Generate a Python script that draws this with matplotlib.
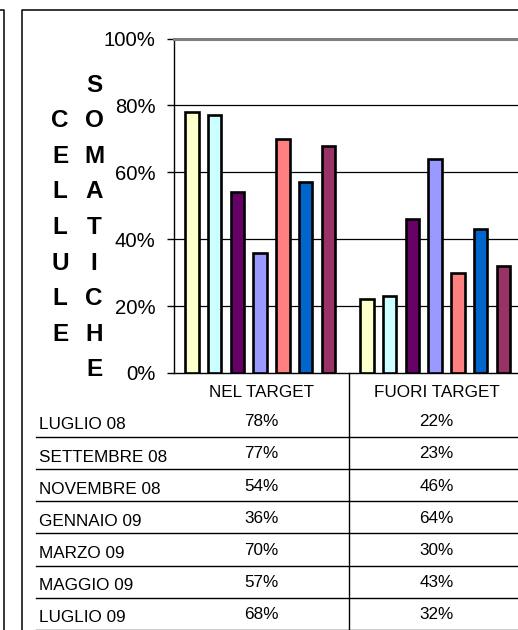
import matplotlib
matplotlib.use("Agg")
import matplotlib.pyplot as plt
from matplotlib.lines import Line2D
import numpy as np

# ---- data ----
categories = ["NEL TARGET", "FUORI TARGET"]
months = ["LUGLIO 08", "SETTEMBRE 08", "NOVEMBRE 08", "GENNAIO 09",
          "MARZO 09", "MAGGIO 09", "LUGLIO 09"]
nel_target = [78, 77, 54, 36, 70, 57, 68]
fuori_target = [22, 23, 46, 64, 30, 43, 32]
colors = ["#FFFFCC", "#CCFFFF", "#660066", "#9999FF", "#FF8080", "#0066CC", "#993366"]
yticks = [0, 20, 40, 60, 80, 100]
title_left = "CELLULE"
title_right = "SOMATICHE"

plt.rcParams['font.family'] = ['Liberation Sans', 'DejaVu Sans']

W, H = 518, 630
fig = plt.figure(figsize=(W / 100, H / 100), dpi=100)

# overlay in pixel coordinates for frame / table
ov = fig.add_axes([0, 0, 1, 1])
ov.set_xlim(0, W)
ov.set_ylim(H, 0)
ov.axis("off")

# chart axes
ax_left, ax_right, ax_top, ax_bot = 174, 524, 38.5, 373
ax = fig.add_axes([ax_left / W, 1 - ax_bot / H, (ax_right - ax_left) / W, (ax_bot - ax_top) / H])
ax.patch.set_alpha(0)

x = np.arange(len(categories))
n = len(months)
step = 0.130
width = 0.078
for i in range(n):
    vals = [nel_target[i], fuori_target[i]]
    ax.bar(x + (i - (n - 1) / 2) * step - 0.008, vals, width=width, color=colors[i],
           edgecolor="black", linewidth=1.9, zorder=3)

ax.set_xlim(-0.5, 1.5)
ax.set_ylim(0, 100)
ax.set_yticks(yticks)
ax.set_yticklabels([f"{t}%" for t in yticks], fontsize=14.6)
ax.tick_params(axis="y", length=5, width=1, pad=8.5, colors="black")
ax.set_xticks([0.5])
ax.set_xticklabels([])
ax.tick_params(axis="x", length=0)
for t in yticks[1:-1]:
    ax.axhline(t, color="black", linewidth=0.9, zorder=1)
ax.spines["top"].set_color("#808080")
ax.spines["top"].set_linewidth(2.2)
ax.spines["right"].set_visible(False)
ax.spines["left"].set_linewidth(1.0)
ax.spines["bottom"].set_linewidth(1.0)

# vertical stacked titles
dy = 35.6
for i, ch in enumerate(title_right):
    ov.text(94, 82.5 + dy * i + 9, ch, fontsize=17.5, fontweight="bold",
            ha="center", va="baseline")
for i, ch in enumerate(title_left):
    ov.text(60, 82.5 + dy * (i + 1) + 9, ch, fontsize=17.5, fontweight="bold",
            ha="center", va="baseline")

# frame lines
lw = 1.1
ov.add_line(Line2D([0, 4, 4], [10, 10, H], color="black", linewidth=lw))
ov.add_line(Line2D([W, 22, 22], [10, 10, H], color="black", linewidth=lw))

# table
fs = 12.3
cat_w = (ax_right - ax_left) / len(categories)
cat_centers = [ax_left + cat_w * (k + 0.5) for k in range(len(categories))]
for k, c in enumerate(categories):
    ov.text(cat_centers[k], 396.7, c, fontsize=fs, ha="center", va="baseline")
ov.add_line(Line2D([ax_left + cat_w, ax_left + cat_w], [ax_bot, H], color="black", linewidth=1.0))
row_top = 404.5
row_h = 32.2
for i, m in enumerate(months):
    yc = row_top + row_h * (i + 0.5)
    ov.text(39, yc + 8.7, m, fontsize=fs, ha="left", va="baseline")
    ov.text(cat_centers[0], yc + 5.6, f"{nel_target[i]}%", fontsize=fs, ha="center", va="baseline")
    ov.text(cat_centers[1], yc + 5.6, f"{fuori_target[i]}%", fontsize=fs, ha="center", va="baseline")
    yl = row_top + row_h * (i + 1)
    ov.add_line(Line2D([36, W], [yl, yl], color="black", linewidth=1.0))

fig.savefig("out.png", dpi=100)
